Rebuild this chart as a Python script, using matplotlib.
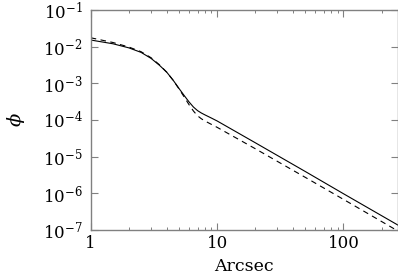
import matplotlib
matplotlib.use('Agg')
import matplotlib.pyplot as plt
from matplotlib.ticker import LogLocator, FixedLocator, NullFormatter

# profile values
radius = [1.0, 1.5, 2.0, 2.5, 3.0, 3.5, 4.0, 4.5, 5.0, 5.5, 6.0, 6.5, 7.0, 7.5, 8.0, 9.0,
          10.0, 20.0, 50.0, 100.0, 270.0]
phi_solid = [1.52e-2, 1.2e-2, 9.3e-3, 7.0e-3, 4.8e-3, 3.1e-3, 2.0e-3, 1.2e-3, 7.2e-4,
             4.6e-4, 3.1e-4, 2.25e-4, 1.8e-4, 1.55e-4, 1.38e-4, 1.13e-4,
             9.4e-5, 2.4e-5, 3.9e-6, 9.7e-7, 1.35e-7]
phi_dashed = [1.75e-2, 1.3e-2, 9.8e-3, 7.3e-3, 5.0e-3, 3.2e-3, 2.0e-3, 1.2e-3, 7.0e-4,
              4.2e-4, 2.6e-4, 1.75e-4, 1.3e-4, 1.08e-4, 9.4e-5, 7.6e-5,
              6.3e-5, 1.65e-5, 2.7e-6, 6.8e-7, 9.3e-8]

xticks = [1, 10, 100]
xticklabels = ['1', '10', '100']
yticks = [1e-7, 1e-6, 1e-5, 1e-4, 1e-3, 1e-2, 1e-1]
yticklabels = [r'$10^{-%d}$' % k for k in [7, 6, 5, 4, 3, 2, 1]]

plt.rcParams['font.family'] = ['DejaVu Serif']
plt.rcParams['mathtext.fontset'] = 'dejavuserif'

fig = plt.figure(figsize=(3.98, 2.79), dpi=100)
ax = fig.add_axes([0.228, 0.176, 0.772, 0.788])

ax.plot(radius, phi_solid, color='black', lw=0.8)
ax.plot(radius, phi_dashed, color='black', lw=0.8, dashes=(5, 4))

ax.set_xscale('log')
ax.set_yscale('log')
ax.set_xlim(1, 270)
ax.set_ylim(1e-7, 1e-1)

ax.xaxis.set_major_locator(FixedLocator(xticks))
ax.set_xticklabels(xticklabels)
ax.xaxis.set_minor_locator(LogLocator(base=10, subs=range(2, 10)))
ax.xaxis.set_minor_formatter(NullFormatter())
ax.yaxis.set_major_locator(FixedLocator(yticks))
ax.set_yticklabels(yticklabels)
ax.yaxis.set_minor_locator(LogLocator(base=10, subs=range(2, 10)))
ax.yaxis.set_minor_formatter(NullFormatter())

for s in ax.spines.values():
    s.set_color('#808080')
    s.set_linewidth(1.0)
ax.tick_params(which='both', direction='in', top=True, right=True,
               color='#808080', labelsize=12, labelcolor='black')
ax.tick_params(which='major', length=5, width=0.8)
ax.tick_params(axis='y', which='major', pad=6)
ax.tick_params(axis='x', which='major', pad=4)
ax.tick_params(which='minor', length=2.5, width=0.7)

ax.set_xlabel('Arcsec', fontsize=12.5, labelpad=4)
ax.set_ylabel(r'$\phi$', fontsize=14, rotation=90, labelpad=11)

fig.savefig('out.png', dpi=100)
